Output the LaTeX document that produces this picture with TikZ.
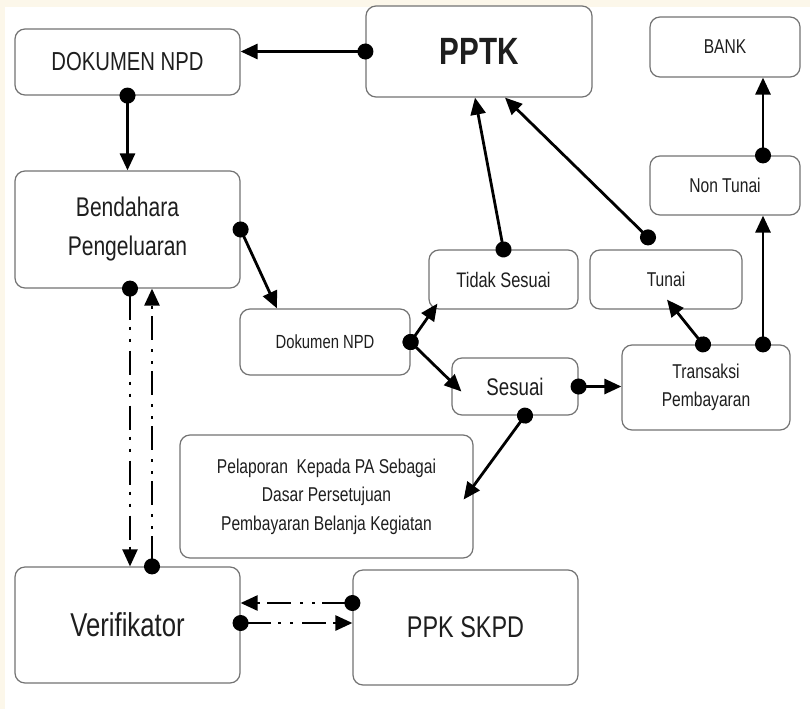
\documentclass[tikz,border=0pt]{standalone}
\usepackage{fontspec}
\setmainfont{Liberation Sans}[FakeStretch=0.78]
\usetikzlibrary{arrows.meta,calc}
\definecolor{bgCream}{RGB}{252,247,234}
\definecolor{boxGray}{RGB}{115,115,115}
\definecolor{txtDark}{RGB}{30,30,30}
\tikzset{
    base/.style={align=center, text=txtDark},
    box/.style={base, rectangle, rounded corners=10pt, draw=boxGray, line width=1.2pt,
                fill=white, inner sep=0pt},
    flow/.style={{Circle[length=16pt]}-{Triangle[length=17pt,width=15pt]}, line width=2.8pt,
                 shorten <=-8pt},
    dashflow/.style={flow, line width=2.6pt,
                     dash pattern=on 24pt off 7pt on 3pt off 9pt on 3pt off 9pt}
}
\begin{document}
\begin{tikzpicture}[x=1pt, y=-1pt]
  \useasboundingbox (0,0) rectangle (810,709);
  \fill[bgCream] (0,0) rectangle (810,709);
  \fill[white] (5,7) rectangle (810,709);

  % upper row
  \node[box, minimum width=225pt, minimum height=66pt, font=\fontsize{26}{30}\selectfont] (npdtop) at (127.5,62) {DOKUMEN NPD};
  \node[box, minimum width=226pt, minimum height=91pt, font=\fontsize{38}{44}\selectfont\bfseries] (pptk) at (479,51.5) {PPTK};
  \node[box, minimum width=150pt, minimum height=60pt, font=\fontsize{20}{24}\selectfont] (bank) at (725,47) {BANK};
  \node[box, minimum width=150pt, minimum height=59pt, font=\fontsize{20}{24}\selectfont] (nontunai) at (725,185.5) {Non Tunai};
  \node[box, minimum width=225pt, minimum height=117pt, font=\fontsize{27}{39}\selectfont] (bend) at (127.5,229.5) {Bendahara\\Pengeluaran};

  % middle
  \node[box, minimum width=149pt, minimum height=59pt, font=\fontsize{21}{24}\selectfont] (tidak) at (503.5,279.5) {Tidak Sesuai};
  \node[box, minimum width=152pt, minimum height=59pt, font=\fontsize{20}{24}\selectfont] (tunai) at (666,279.5) {Tunai};
  \node[box, minimum width=170pt, minimum height=66pt, font=\fontsize{19}{22}\selectfont] (npdmid) at (325,342) {Dokumen NPD};
  \node[box, minimum width=126pt, minimum height=57pt, font=\fontsize{24}{28}\selectfont] (sesuai) at (515,386.5) {Sesuai};
  \node[box, minimum width=168pt, minimum height=85pt, font=\fontsize{20}{28}\selectfont] (trans) at (706,387.5) {Transaksi\\Pembayaran};
  \node[box, minimum width=293pt, minimum height=123pt, font=\fontsize{20}{28.5}\selectfont] (lapor) at (326.5,496.5) {Pelaporan \ Kepada PA Sebagai\\Dasar Persetujuan\\Pembayaran Belanja Kegiatan};

  % lower row
  \node[box, minimum width=225pt, minimum height=116pt, font=\fontsize{33}{38}\selectfont] (verif) at (127.5,625) {Verifikator};
  \node[box, minimum width=225pt, minimum height=115pt, font=\fontsize{30}{36}\selectfont] (ppk) at (465.5,627.5) {PPK SKPD};

  \draw[flow] (pptk.west) -- (pptk.west -| npdtop.east);
  \draw[flow] (npdtop.south) -- (bend.north);
  \draw[flow] (bend.east) -- ([xshift=-48pt]npdmid.north);
  \draw[dashflow, line width=2.2pt] ([xshift=2.5pt]bend.south) -- ([xshift=2.5pt]verif.north);
  \draw[dashflow] ([xshift=24.5pt]verif.north) -- ([xshift=24.5pt]bend.south);
  \draw[dashflow] ([yshift=24.5pt]ppk.west) -- ([yshift=24.5pt]ppk.west -| verif.east);
  \draw[dashflow] ([yshift=2pt]verif.east) -- ([yshift=2pt]verif.east -| ppk.west);
  \draw[flow] (npdmid.east) -- ([xshift=9pt,yshift=6pt]tidak.south west);
  \draw[flow] (npdmid.east) -- ([xshift=10pt,yshift=-5pt]sesuai.west);
  \draw[flow] (sesuai.east) -- (sesuai.east -| trans.west);
  \draw[flow] ([xshift=10pt]sesuai.south) -- ([xshift=-10pt,yshift=-3pt]lapor.east);
  \draw[flow] ([xshift=-3pt]trans.north) -- ([xshift=1pt,yshift=10pt]tunai.south);
  \draw[flow] ([xshift=57pt]trans.north) -- ([xshift=38pt]nontunai.south);
  \draw[flow] ([xshift=38pt]nontunai.north) -- ([xshift=38pt]bank.south);
  \draw[flow] (tidak.north) -- ([xshift=-4pt]pptk.south);
  \draw[flow] ([xshift=-18pt,yshift=12pt]tunai.north) -- ([xshift=26pt]pptk.south);
\end{tikzpicture}
\end{document}
